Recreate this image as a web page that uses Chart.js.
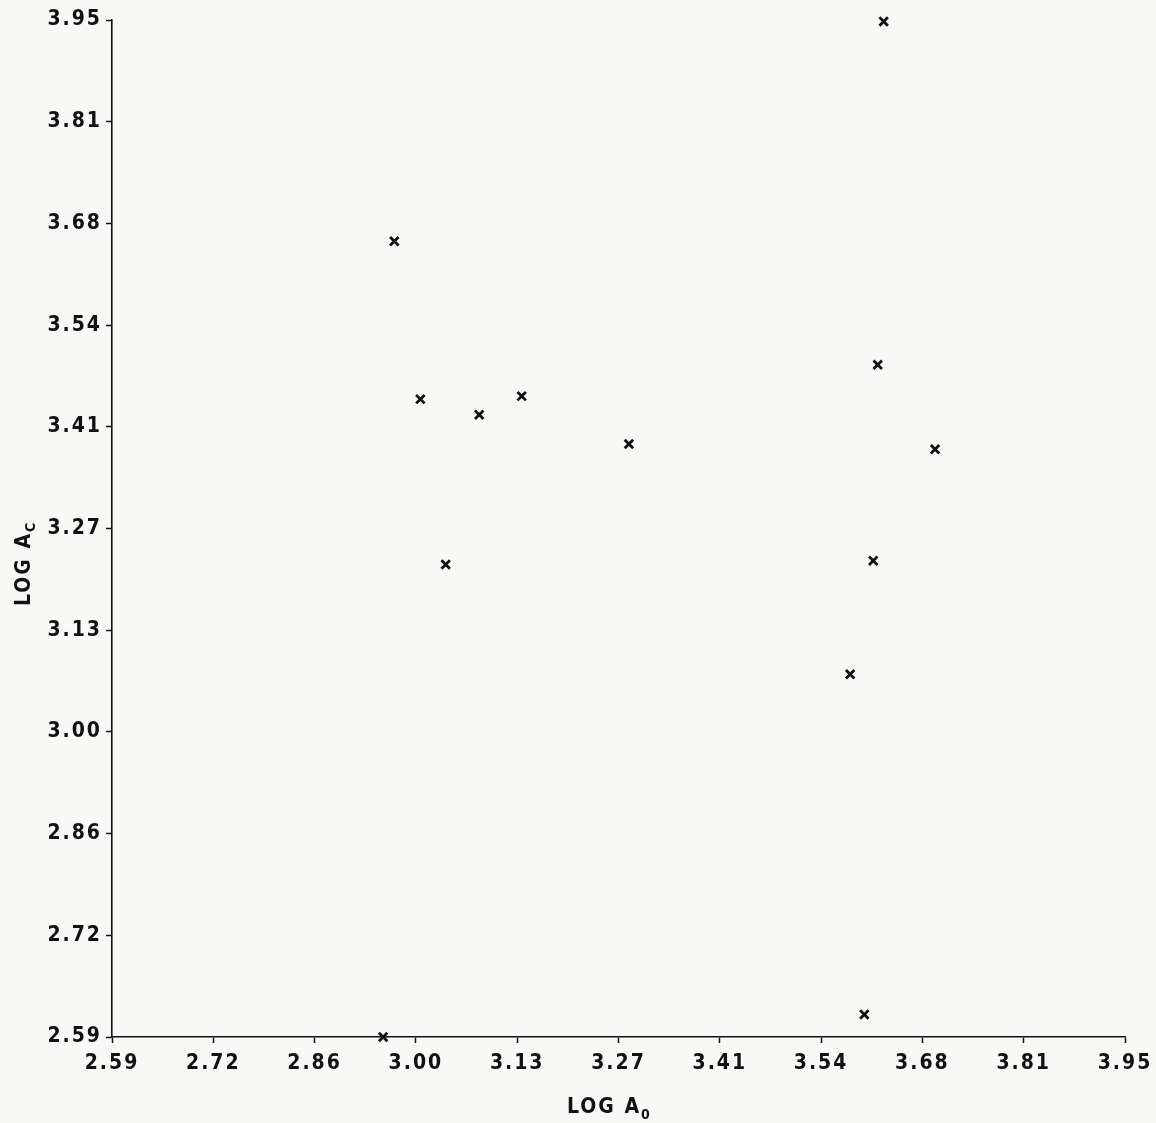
<!DOCTYPE html>
<html>
<head>
<meta charset="utf-8">
<script src="https://cdn.jsdelivr.net/npm/chart.js@4"></script>
<style>
  html, body { margin: 0; padding: 0; background: #f8f8f7; }
  #wrap { width: 1156px; height: 1123px; }
</style>
</head>
<body>
<div id="wrap"><canvas id="chart" width="1156" height="1123"></canvas></div>
<script>
// log A0 vs log Ac
const logA0 = [2.969, 3.004, 3.083, 3.140, 3.284, 3.038, 3.626, 3.618, 3.695, 3.612, 3.581, 3.600, 2.954];
const logAc = [3.654, 3.443, 3.422, 3.447, 3.383, 3.222, 3.948, 3.489, 3.376, 3.227, 3.075, 2.620, 2.590];

const tickValues = [2.59, 2.726, 2.862, 2.998, 3.134, 3.27, 3.406, 3.542, 3.678, 3.814, 3.95];
const tickLabels = ["2.59", "2.72", "2.86", "3.00", "3.13", "3.27", "3.41", "3.54", "3.68", "3.81", "3.95"];

const FONT = "'DejaVu Sans Condensed', 'DejaVu Sans', sans-serif";
const INK = "#111111";

const points = logA0.map((x, i) => ({ x, y: logAc[i] }));

function setSpacing(chart) {
  chart.ctx.letterSpacing = "2px";
}

// axis titles with subscripts, drawn as canvas text
const axisTitles = {
  id: "axisTitles",
  beforeLayout: setSpacing,
  beforeDraw: setSpacing,
  afterDraw(chart) {
    const ctx = chart.ctx;
    ctx.save();
    ctx.letterSpacing = "2px";
    ctx.fillStyle = INK;
    ctx.textBaseline = "alphabetic";
    ctx.textAlign = "left";

    // x title: LOG A0
    ctx.font = "bold 21px " + FONT;
    let w1 = ctx.measureText("LOG A").width;
    let x0 = 567;
    ctx.fillText("LOG A", x0, 1113);
    ctx.font = "bold 14px " + FONT;
    ctx.fillText("0", x0 + w1, 1119);

    // y title: LOG Ac, rotated
    ctx.translate(30, 606);
    ctx.rotate(-Math.PI / 2);
    ctx.font = "bold 21px " + FONT;
    w1 = ctx.measureText("LOG A").width;
    ctx.fillText("LOG A", 0, 0);
    ctx.font = "bold 14px " + FONT;
    ctx.fillText("C", w1, 5);
    ctx.restore();
  }
};

function axisCommon(axis) {
  return {
    type: "linear",
    min: 2.59,
    max: 3.95,
    afterBuildTicks(scale) {
      scale.ticks = tickValues.map(v => ({ value: v }));
    },
    grid: {
      drawOnChartArea: false,
      drawTicks: true,
      tickLength: 6,
      tickWidth: 1.5,
      color: INK
    },
    border: { display: true, color: INK, width: 1.6 },
    ticks: {
      color: INK,
      autoSkip: false,
      maxRotation: 0,
      padding: axis === "x" ? 8 : 4,
      font: { family: FONT, size: 21, weight: "bold" },
      callback: (v, i) => tickLabels[i]
    }
  };
}

const xAxis = axisCommon("x");
xAxis.position = "bottom";
xAxis.afterFit = scale => {
  scale.height = 86;
  scale.paddingLeft = 0;
  scale.paddingRight = 0;
};

const yAxis = axisCommon("y");
yAxis.position = "left";
yAxis.afterFit = scale => {
  scale.width = 112;
  scale.paddingTop = 0;
  scale.paddingBottom = 0;
};

new Chart(document.getElementById("chart"), {
  type: "scatter",
  data: {
    datasets: [
      {
        label: "log Ac",
        data: points,
        pointStyle: "crossRot",
        pointRadius: 6,
        pointBorderWidth: 2.8,
        borderColor: INK,
        backgroundColor: INK,
        clip: false
      }
    ]
  },
  options: {
    responsive: false,
    animation: false,
    layout: { padding: { top: 20, right: 31, left: 0, bottom: 0 } },
    plugins: {
      legend: { display: false },
      tooltip: { enabled: false }
    },
    scales: { x: xAxis, y: yAxis }
  },
  plugins: [axisTitles]
});
</script>
</body>
</html>
